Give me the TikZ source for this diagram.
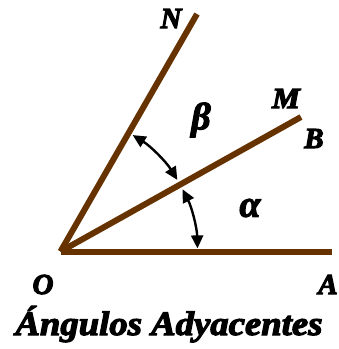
\documentclass[tikz,border=0pt]{standalone}
\usepackage{fontspec}
\setmainfont{Liberation Serif}
\newfontfamily\lblfont{Liberation Serif}
\newcommand{\heavytext}[1]{\special{pdf:literal direct 2 Tr 1.1 w}#1\special{pdf:literal direct 0 Tr}}
\usetikzlibrary{arrows.meta}
\definecolor{raybrown}{RGB}{102,51,0}
\begin{document}
\begin{tikzpicture}[x=1pt,y=-1pt,
  ray/.style={draw=raybrown,line width=6pt,line cap=butt},
  angarrow/.style={draw=black,line width=2.4pt,{Triangle[length=13pt,width=12pt]}-{Triangle[length=13pt,width=12pt]}},
  lbl/.style={font=\fontsize{29}{32}\lblfont\bfseries\itshape,inner sep=0pt,anchor=base},
  greek/.style={font=\fontsize{38}{42}\lblfont\bfseries\itshape,inner sep=0pt}
]
\useasboundingbox (0,0) rectangle (339,349);
\coordinate (O) at (60.5,251.5);
\coordinate (A) at (332,251.5);
\coordinate (B) at (301,117);
\coordinate (N) at (197,14);
\draw[ray] (O) -- (A);
\draw[ray] (O) -- (B);
\draw[ray] (O) -- (N);
% angle arrows (arcs centred at O, radius 137)
\path[angarrow] ([shift={(58.2:137 and -137)}]O) arc[start angle=-58.2,end angle=-31.5,radius=137];
\path[angarrow] ([shift={(27:137 and -137)}]O) arc[start angle=-27,end angle=-1.3,radius=137];
\node[lbl] (nN) at (171,28) {\heavytext{N}};
\node[lbl] (nM) at (286,108) {\heavytext{\scalebox{1.08}[1]{M}}};
\node[lbl] (nB) at (314,148) {\heavytext{B}};
\node[lbl] (nO) at (43,294) {\heavytext{O}};
\node[lbl] (nA) at (328,294) {\heavytext{A}};
\node[greek] (beta) at (201,120) {\heavytext{β}};
\node[greek] (alpha) at (250,208) {\heavytext{α}};
\node[font=\fontsize{34}{38}\lblfont\bfseries\itshape,inner sep=0pt,anchor=base] (title) at (169,335) {\heavytext{\scalebox{1.08}[1]{Ángulos Adyacentes}}};
\end{tikzpicture}
\end{document}
